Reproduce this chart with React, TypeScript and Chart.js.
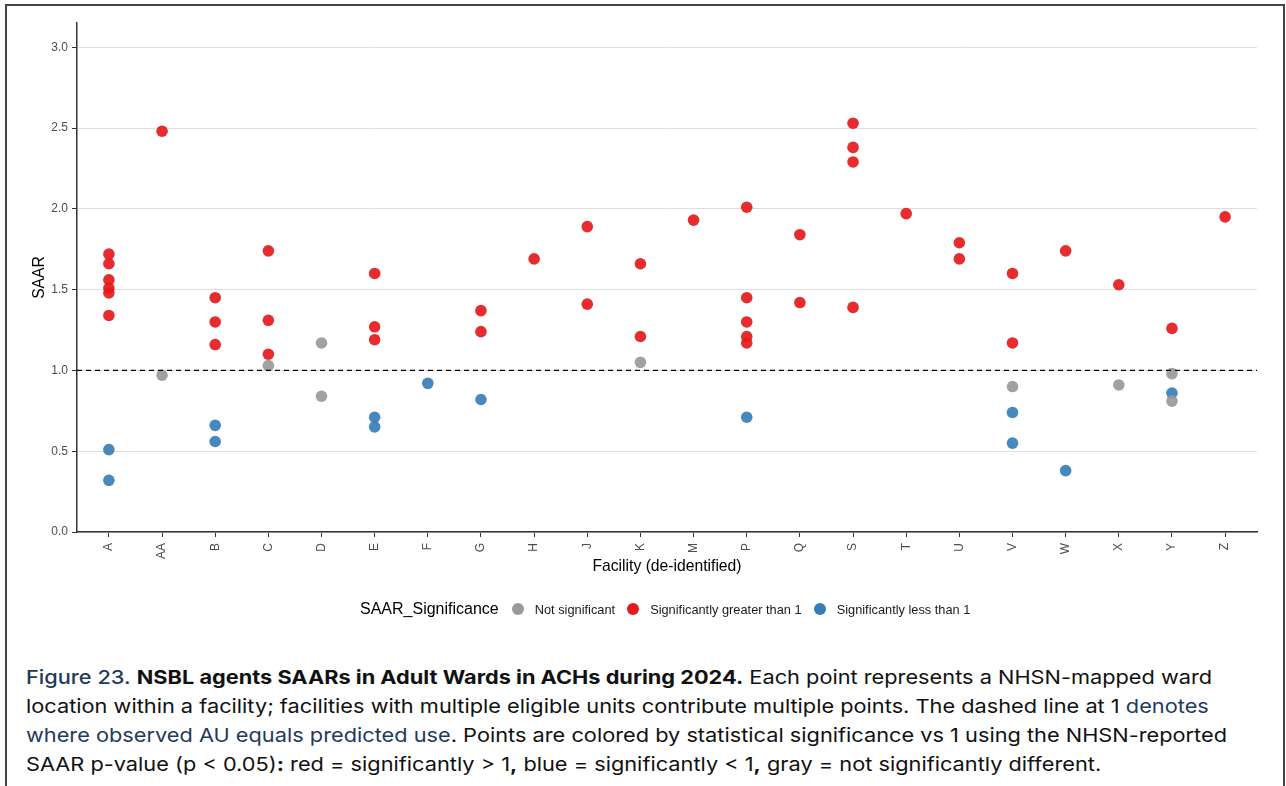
import React, { useEffect, useRef } from 'react';
import { Chart, registerables } from 'chart.js';

Chart.register(...registerables);

// Facilities on the x axis, in plotting order
const categories = ['A', 'AA', 'B', 'C', 'D', 'E', 'F', 'G', 'H', 'J', 'K', 'M', 'P', 'Q', 'S', 'T', 'U', 'V', 'W', 'X', 'Y', 'Z'];

// Ward-level SAARs, split by significance group (facility, value pairs)
const notSigFacility = ['AA', 'C', 'D', 'D', 'K', 'V', 'X', 'Y', 'Y'];
const notSigSAAR = [0.97, 1.03, 1.17, 0.84, 1.05, 0.90, 0.91, 0.98, 0.81];

const greaterFacility = [
  'A', 'A', 'A', 'A', 'A', 'A', 'AA', 'B', 'B', 'B', 'C', 'C', 'C', 'E', 'E', 'E',
  'G', 'G', 'H', 'J', 'J', 'K', 'K', 'M', 'P', 'P', 'P', 'P', 'P', 'Q', 'Q',
  'S', 'S', 'S', 'S', 'T', 'U', 'U', 'V', 'V', 'W', 'X', 'Y', 'Z',
];
const greaterSAAR = [
  1.72, 1.66, 1.56, 1.51, 1.48, 1.34, 2.48, 1.45, 1.30, 1.16, 1.74, 1.31, 1.10, 1.60, 1.27, 1.19,
  1.37, 1.24, 1.69, 1.89, 1.41, 1.66, 1.21, 1.93, 2.01, 1.45, 1.30, 1.21, 1.17, 1.84, 1.42,
  2.53, 2.38, 2.29, 1.39, 1.97, 1.79, 1.69, 1.60, 1.17, 1.74, 1.53, 1.26, 1.95,
];

const lessFacility = ['A', 'A', 'B', 'B', 'E', 'E', 'F', 'G', 'P', 'V', 'V', 'W', 'Y'];
const lessSAAR = [0.51, 0.32, 0.66, 0.56, 0.71, 0.65, 0.92, 0.82, 0.71, 0.74, 0.55, 0.38, 0.86];

// Axis ticks and the reference line
const yTicks = [0, 0.5, 1, 1.5, 2, 2.5, 3];
const yMax = 3.15;
const referenceSAAR = 1;

const seriesNames = ['Not significant', 'Significantly greater than 1', 'Significantly less than 1'];
const seriesColors = ['#999999', '#E41A1C', '#377EB8'];
const seriesFill = ['rgba(153,153,153,0.92)', 'rgba(228,26,28,0.92)', 'rgba(55,126,184,0.92)'];

const legendTitle = 'SAAR_Significance';
const xTitle = 'Facility (de-identified)';
const yTitle = 'SAAR';

const plotFont = '"Liberation Sans", Arial, Helvetica, sans-serif';
const NAVY = '#1f3a5c';

function toPoints(facilities: string[], values: number[]) {
  return facilities.map((f, i) => ({ x: categories.indexOf(f), y: values[i] }));
}

const CANVAS_W = 1286;
const CANVAS_H = 600;
const PAD_BOTTOM = 24;
const AREA_BOTTOM = 532;

export default function App() {
  const canvasRef = useRef<HTMLCanvasElement>(null);

  useEffect(() => {
    const canvas = canvasRef.current;
    if (!canvas) return;
    const xMin = -0.6;
    const xMax = categories.length - 1 + 0.6;

    const groups = [
      toPoints(notSigFacility, notSigSAAR),
      toPoints(greaterFacility, greaterSAAR),
      toPoints(lessFacility, lessSAAR),
    ];

    const chart = new Chart(canvas, {
      type: 'scatter',
      data: {
        datasets: [
          {
            type: 'line',
            label: 'reference',
            data: [
              { x: xMin, y: referenceSAAR },
              { x: xMax, y: referenceSAAR },
            ],
            borderColor: '#000000',
            borderWidth: 1.2,
            borderDash: [5, 4],
            pointRadius: 0,
            order: 0,
          } as any,
          ...groups.map((pts, i) => ({
            label: seriesNames[i],
            data: pts,
            backgroundColor: seriesFill[i],
            borderWidth: 0,
            pointRadius: 5.8,
            order: 1,
          })),
        ],
      },
      options: {
        animation: false,
        responsive: false,
        events: [],
        layout: { padding: { left: 0, top: 23, right: 29, bottom: PAD_BOTTOM } },
        plugins: {
          legend: { display: false },
          tooltip: { enabled: false },
        },
        scales: {
          x: {
            type: 'linear',
            min: xMin,
            max: xMax,
            afterBuildTicks: (scale: any) => {
              scale.ticks = categories.map((_, i) => ({ value: i }));
            },
            afterFit: (scale: any) => {
              scale.height = CANVAS_H - PAD_BOTTOM - AREA_BOTTOM;
            },
            ticks: {
              autoSkip: false,
              minRotation: 90,
              maxRotation: 90,
              padding: 6,
              color: '#4d4d4d',
              font: { family: plotFont, size: 12 },
              callback: (v: any) => categories[Number(v)] ?? '',
            },
            grid: {
              drawOnChartArea: false,
              drawTicks: true,
              tickLength: 5,
              tickColor: '#333333',
            },
            border: { color: '#333333', width: 1.5 },
            title: {
              display: true,
              text: xTitle,
              color: '#000000',
              font: { family: plotFont, size: 15.7 },
              padding: 0,
            },
          },
          y: {
            type: 'linear',
            min: 0,
            max: yMax,
            afterBuildTicks: (scale: any) => {
              scale.ticks = yTicks.map((v) => ({ value: v }));
            },
            afterFit: (scale: any) => {
              scale.width = 77;
            },
            ticks: {
              padding: 4,
              color: '#4d4d4d',
              font: { family: plotFont, size: 12 },
              callback: (v: any) => Number(v).toFixed(1),
            },
            grid: {
              color: '#dedede',
              lineWidth: 1,
              tickLength: 5,
              tickColor: '#333333',
            },
            border: { color: '#333333', width: 1.5 },
            title: {
              display: true,
              text: yTitle,
              color: '#000000',
              font: { family: plotFont, size: 15.7 },
              padding: { top: 30.6, bottom: 0 },
            },
          },
        },
      },
    });

    return () => chart.destroy();
  }, []);

  return (
    <div style={{ position: 'absolute', left: 0, top: 0, width: 1286, height: 786, overflow: 'hidden', background: '#ffffff' }}>
      <div
        style={{
          position: 'absolute',
          left: 5,
          top: 4,
          width: 1276,
          height: 820,
          border: '2px solid #444444',
        }}
      />
      <canvas
        ref={canvasRef}
        width={CANVAS_W}
        height={CANVAS_H}
        style={{ position: 'absolute', left: 0, top: 0, width: CANVAS_W, height: CANVAS_H }}
      />
      <div
        style={{
          position: 'absolute',
          left: 360,
          top: 599,
          height: 20,
          display: 'flex',
          alignItems: 'center',
          fontFamily: plotFont,
          whiteSpace: 'nowrap',
        }}
      >
        <span style={{ fontSize: 16, color: '#000' }}>{legendTitle}</span>
        {seriesNames.map((name, i) => (
          <span key={name} style={{ display: 'flex', alignItems: 'center', marginLeft: i === 0 ? 13 : 12 }}>
            <span style={{ width: 12, height: 12, borderRadius: 6, background: seriesColors[i], display: 'inline-block' }} />
            <span style={{ marginLeft: 11, fontSize: 12.8, color: '#1a1a1a' }}>{name}</span>
          </span>
        ))}
      </div>
      <div
        style={{
          position: 'absolute',
          left: 26,
          top: 663,
          fontFamily: 'Inter, Roboto, sans-serif',
          fontSize: 19,
          lineHeight: '29px',
          whiteSpace: 'nowrap',
          color: '#111111',
          transformOrigin: 'left top',
          transform: 'scaleX(1.145)',
        }}
      >
        <span style={{ color: NAVY, fontWeight: 500 }}>Figure 23.</span>{' '}
        <b>NSBL agents SAARs in Adult Wards in ACHs during 2024.</b> Each point represents a NHSN-mapped ward
        <br />
        location within a facility; facilities with multiple eligible units contribute multiple points. The dashed line at 1{' '}
        <span style={{ color: NAVY }}>denotes</span>
        <br />
        <span style={{ color: NAVY }}>where observed AU equals predicted use</span>. Points are colored by statistical significance vs 1 using the NHSN-reported
        <br />
        SAAR p-value (p &lt; 0.05)<b>:</b> red = significantly &gt; 1<b>,</b> blue = significantly &lt; 1<b>,</b> gray = not significantly different.
      </div>
    </div>
  );
}
